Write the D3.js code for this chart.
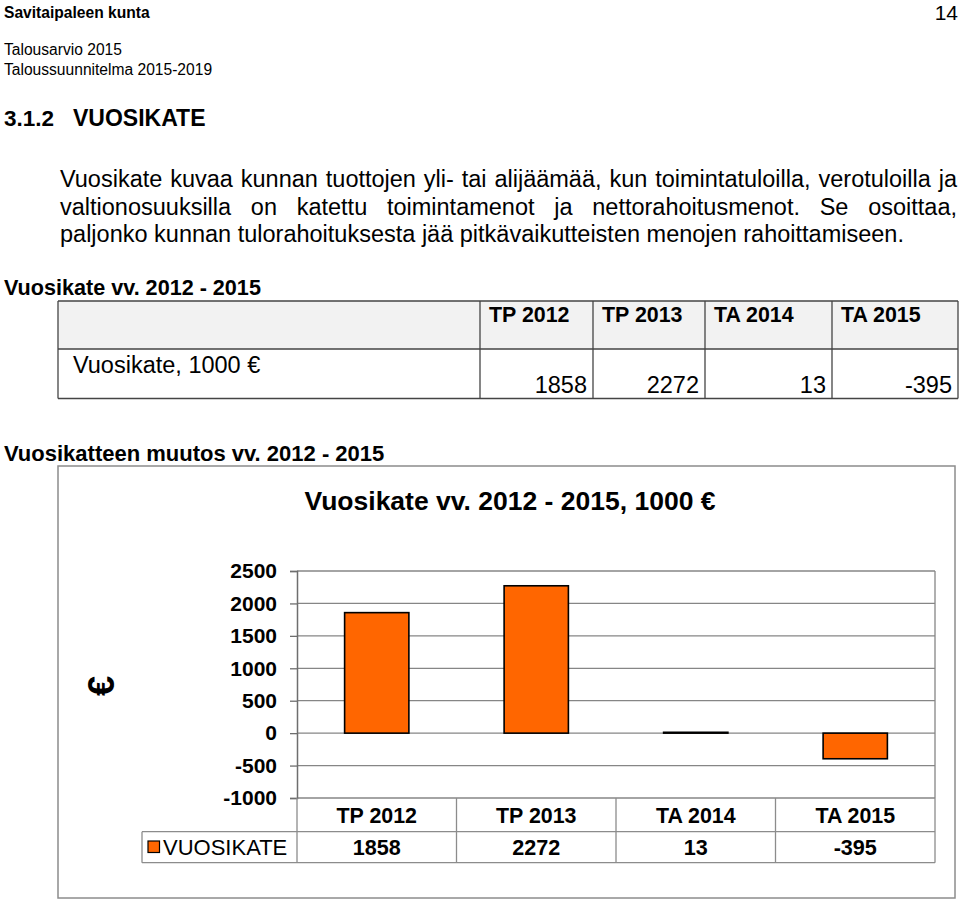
<!DOCTYPE html>
<html>
<head>
<meta charset="utf-8">
<script src="https://cdn.jsdelivr.net/npm/d3@7"></script>
<style>
  html, body { margin: 0; padding: 0; background: #fff; }
  svg { display: block; }
  text { font-family: "Liberation Sans", Arial, sans-serif; fill: #000; }
</style>
</head>
<body>
<script>
// ---------- data ----------
const categories = ["TP 2012", "TP 2013", "TA 2014", "TA 2015"];
const values = [1858, 2272, 13, -395];
const yTicks = [2500, 2000, 1500, 1000, 500, 0, -500, -1000];
const seriesName = "VUOSIKATE";
const chartTitle = "Vuosikate vv. 2012 - 2015, 1000 €";
const paragraphLines = [
  "Vuosikate kuvaa kunnan tuottojen yli- tai alijäämää, kun toimintatuloilla, verotuloilla ja",
  "valtionosuuksilla on katettu toimintamenot ja nettorahoitusmenot. Se osoittaa,",
  "paljonko kunnan tulorahoituksesta jää pitkävaikutteisten menojen rahoittamiseen."
];

const W = 960, H = 903;
const svg = d3.select("body").append("svg").attr("width", W).attr("height", H);
const fmt = v => String(Math.round(v)); // plain hyphen-minus

function txt(x, y, s, size, opts = {}) {
  return svg.append("text")
    .attr("x", x).attr("y", y)
    .attr("font-size", size)
    .attr("font-weight", opts.bold ? "bold" : "normal")
    .attr("text-anchor", opts.anchor || "start")
    .text(s);
}

// ---------- page header ----------
txt(4, 17.5, "Savitaipaleen kunta", 15.6, {bold: true});
txt(958, 19.5, "14", 21, {anchor: "end"});
txt(4, 54.5, "Talousarvio 2015", 15.6);
txt(4, 74.5, "Taloussuunnitelma 2015-2019", 15.6);
txt(4, 126, "3.1.2", 22.5, {bold: true});
txt(73, 126, "VUOSIKATE", 23, {bold: true});

// ---------- justified paragraph ----------
const pSize = 23.5, pLeft = 60, pRight = 957;
const pBase = [187, 214.5, 242];
paragraphLines.forEach((line, i) => {
  const words = line.split(" ");
  if (i === paragraphLines.length - 1) {
    txt(pLeft, pBase[i], line, pSize);
    return;
  }
  const nodes = words.map(w => txt(0, pBase[i], w, pSize));
  const widths = nodes.map(n => n.node().getComputedTextLength());
  const gap = (pRight - pLeft - d3.sum(widths)) / (words.length - 1);
  let x = pLeft;
  nodes.forEach((n, k) => { n.attr("x", x); x += widths[k] + gap; });
});

// ---------- summary table ----------
txt(4, 295, "Vuosikate vv. 2012 - 2015", 21.6, {bold: true});
const tLeft = 58, tRight = 958, tTop = 301, tMid = 349, tBot = 398.5;
const colX = [480, 593, 705, 832, tRight];
svg.append("rect").attr("x", tLeft).attr("y", tTop).attr("width", tRight - tLeft).attr("height", tMid - tTop)
  .attr("fill", "#f2f2f2");
const tg = svg.append("g").attr("stroke", "#444").attr("stroke-width", 1.3);
[tTop, tMid, tBot].forEach(y => tg.append("line").attr("x1", tLeft).attr("x2", tRight).attr("y1", y).attr("y2", y));
[tLeft, ...colX].forEach(x => tg.append("line").attr("x1", x).attr("x2", x).attr("y1", tTop).attr("y2", tBot));
categories.forEach((c, i) => {
  txt(colX[i] + 9, 321.5, c, 21.4, {bold: true});
  txt(colX[i + 1] - 6, 393, fmt(values[i]), 23.5, {anchor: "end"});
});
txt(73, 372.5, "Vuosikate, 1000 €", 23.5);

txt(4, 461, "Vuosikatteen muutos vv. 2012 - 2015", 22, {bold: true});

// ---------- chart ----------
svg.append("rect").attr("x", 58).attr("y", 466).attr("width", 897).attr("height", 432)
  .attr("fill", "#fff").attr("stroke", "#8c8c8c").attr("stroke-width", 1.5);

txt(510, 509.5, chartTitle, 26.5, {bold: true, anchor: "middle"});

const plot = {left: 297, right: 935, top: 571, bottom: 798};
const y = d3.scaleLinear().domain([-1000, 2500]).range([plot.bottom, plot.top]);
const x = d3.scaleBand().domain(categories).range([plot.left, plot.right]).padding(0);

// gridlines
svg.append("g").selectAll("line").data(yTicks).join("line")
  .attr("x1", plot.left).attr("x2", plot.right)
  .attr("y1", d => y(d)).attr("y2", d => y(d))
  .attr("stroke", "#868686").attr("stroke-width", 1.3);
// right border
svg.append("line").attr("x1", plot.right).attr("x2", plot.right).attr("y1", plot.top).attr("y2", plot.bottom)
  .attr("stroke", "#868686").attr("stroke-width", 1.3);

// y axis
const yAxis = svg.append("g").attr("transform", `translate(${plot.left},0)`)
  .call(d3.axisLeft(y).tickValues(yTicks).tickSize(7).tickPadding(13).tickFormat(fmt));
yAxis.select(".domain").attr("stroke", "#6e6e6e").attr("stroke-width", 1.5);
yAxis.selectAll(".tick line").attr("stroke", "#6e6e6e").attr("stroke-width", 1.3);
yAxis.selectAll(".tick text")
  .attr("font-family", '"Liberation Sans", Arial, sans-serif')
  .attr("font-size", 21).attr("font-weight", "bold").attr("fill", "#000");

// bars
const barW = x.bandwidth() * 0.403;
svg.append("g").selectAll("rect").data(values).join("rect")
  .attr("x", (d, i) => x(categories[i]) + (x.bandwidth() - barW) / 2)
  .attr("y", d => y(Math.max(0, d)))
  .attr("width", barW)
  .attr("height", d => Math.abs(y(d) - y(0)))
  .attr("fill", "#ff6600").attr("stroke", "#000").attr("stroke-width", 1.6);

// data table under chart
const row1 = plot.bottom, row2 = 831.7, row3 = 862.7, legLeft = 142;
const dg = svg.append("g").attr("stroke", "#8c8c8c").attr("stroke-width", 1.3);
dg.append("line").attr("x1", legLeft).attr("x2", plot.right).attr("y1", row2).attr("y2", row2);
dg.append("line").attr("x1", legLeft).attr("x2", plot.right).attr("y1", row3).attr("y2", row3);
dg.append("line").attr("x1", legLeft).attr("x2", legLeft).attr("y1", row2).attr("y2", row3);
dg.append("line").attr("x1", plot.left).attr("x2", plot.left).attr("y1", row1).attr("y2", row3);
categories.forEach(c => {
  const xr = x(c) + x.bandwidth();
  dg.append("line").attr("x1", xr).attr("x2", xr).attr("y1", row1).attr("y2", row3);
});
categories.forEach((c, i) => {
  txt(x(c) + x.bandwidth() / 2, 823, c, 21.4, {bold: true, anchor: "middle"});
  txt(x(c) + x.bandwidth() / 2, 855, fmt(values[i]), 21.6, {bold: true, anchor: "middle"});
});
svg.append("rect").attr("x", 148).attr("y", 841).attr("width", 11.5).attr("height", 11.5)
  .attr("fill", "#ff6600").attr("stroke", "#000").attr("stroke-width", 1.2);
txt(163, 855, seriesName, 22);

// rotated euro label
svg.append("text").attr("transform", "translate(114,686) rotate(-90)")
  .attr("text-anchor", "middle").attr("font-size", 36).attr("font-weight", "bold").text("€");
</script>
</body>
</html>
